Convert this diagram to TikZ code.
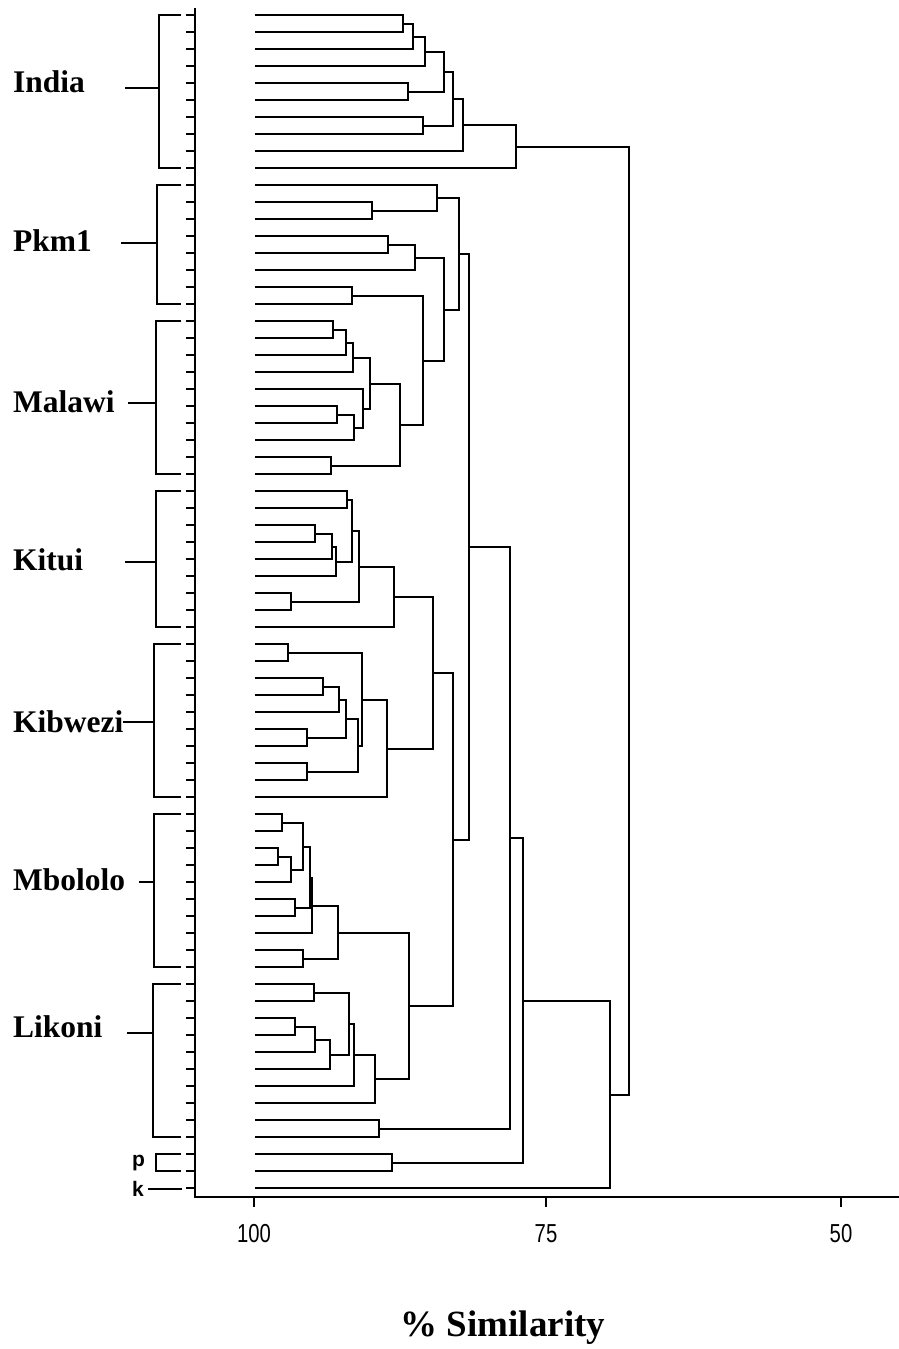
\documentclass[tikz,border=0pt]{standalone}
\usepackage{fontspec}
\setmainfont{Liberation Serif}
\newfontfamily\ticksans[FakeStretch=0.78]{Liberation Sans}
\newfontfamily\lettersans{Liberation Sans}

% leaf: name, row index (rows are 17 units apart, first at 15)
\newcommand\dgleaf[2]{%
  \pgfmathsetmacro\dgtmp{15+17*#2}%
  \expandafter\xdef\csname dgy@#1\endcsname{\dgtmp}%
  \coordinate (#1) at (255,\dgtmp);}
% join: name, x position, first child, second child (snapped to whole units)
\newcommand\dgjoin[4]{%
  \pgfmathsetmacro\dgtmp{round((\csname dgy@#3\endcsname+\csname dgy@#4\endcsname)/2)}%
  \expandafter\xdef\csname dgy@#1\endcsname{\dgtmp}%
  \coordinate (#1) at (#2,\dgtmp);
  \draw[tree] (#3) -| (#1) |- (#4);}

\begin{document}
\begin{tikzpicture}[x=1pt,y=-1pt,
  tree/.style={line width=2pt},
  frame/.style={line width=2pt},
  brk/.style={line width=2pt},
  grplabel/.style={anchor=base west, inner sep=0pt,
    font=\fontsize{31.5}{34}\selectfont\bfseries},
  smallletter/.style={anchor=base west, inner sep=0pt,
    font=\lettersans\fontsize{21}{23}\selectfont\bfseries},
  ticklab/.style={anchor=base, inner sep=0pt,
    font=\ticksans\fontsize{26}{28}\selectfont}]
\useasboundingbox (0,0) rectangle (899,1349);

% axes
\coordinate (ax-top) at (195,8);
\coordinate (ax-corner) at (195,1197);
\coordinate (ax-end) at (899,1197);
\draw[frame] (ax-top) -- (ax-corner) -- (ax-end);

% leaves and their ticks on the vertical axis
\foreach \i in {0,...,69} {
  \dgleaf{L\i}{\i}
  \draw[frame] (186,\dgtmp) -- (ax-top |- L\i);
}

% India
\dgjoin{a1}{403}{L0}{L1}
\dgjoin{a2}{413}{a1}{L2}
\dgjoin{a3}{425}{a2}{L3}
\dgjoin{a4}{408}{L4}{L5}
\dgjoin{a5}{444}{a3}{a4}
\dgjoin{a6}{423}{L6}{L7}
\dgjoin{a7}{453}{a5}{a6}
\dgjoin{a8}{463}{a7}{L8}
\dgjoin{a9}{516}{a8}{L9}

% Pkm1
\dgjoin{b1}{372}{L11}{L12}
\dgjoin{b2}{437}{L10}{b1}
\dgjoin{b3}{388}{L13}{L14}
\dgjoin{b4}{415}{b3}{L15}
\dgjoin{b5}{352}{L16}{L17}

% Malawi
\dgjoin{m1}{333}{L18}{L19}
\dgjoin{m2}{346}{m1}{L20}
\dgjoin{m3}{353}{m2}{L21}
\dgjoin{m4}{337}{L23}{L24}
\dgjoin{m5}{354}{m4}{L25}
\dgjoin{m6}{363}{L22}{m5}
\dgjoin{m7}{370}{m3}{m6}
\dgjoin{m8}{331}{L26}{L27}
\dgjoin{m9}{400}{m7}{m8}

\dgjoin{b6}{423}{b5}{m9}
\dgjoin{b7}{444}{b4}{b6}
\dgjoin{b8}{459}{b2}{b7}

% Kitui
\dgjoin{k1}{347}{L28}{L29}
\dgjoin{k2}{315}{L30}{L31}
\dgjoin{k3}{332}{k2}{L32}
\dgjoin{k4}{336}{k3}{L33}
\dgjoin{k5}{352}{k1}{k4}
\dgjoin{k6}{291}{L34}{L35}
\dgjoin{k7}{359}{k5}{k6}
\dgjoin{k8}{394}{k7}{L36}

% Kibwezi
\dgjoin{w1}{288}{L37}{L38}
\dgjoin{w2}{323}{L39}{L40}
\dgjoin{w3}{339}{w2}{L41}
\dgjoin{w4}{307}{L42}{L43}
\dgjoin{w5}{346}{w3}{w4}
\dgjoin{w6}{307}{L44}{L45}
\dgjoin{w7}{358}{w5}{w6}
\dgjoin{w8}{362}{w1}{w7}
\dgjoin{w9}{387}{w8}{L46}

\dgjoin{kw}{433}{k8}{w9}

% Mbololo
\dgjoin{o1}{282}{L47}{L48}
\dgjoin{o2}{278}{L49}{L50}
\dgjoin{o3}{291}{o2}{L51}
\dgjoin{o4}{303}{o1}{o3}
\dgjoin{o5}{295}{L52}{L53}
\dgjoin{o6}{310}{o4}{o5}
\dgjoin{o7}{312}{o6}{L54}
\dgjoin{o8}{303}{L55}{L56}
\dgjoin{o9}{338}{o7}{o8}

% Likoni
\dgjoin{l1}{314}{L57}{L58}
\dgjoin{l2}{295}{L59}{L60}
\dgjoin{l3}{315}{l2}{L61}
\dgjoin{l4}{330}{l3}{L62}
\dgjoin{l5}{349}{l1}{l4}
\dgjoin{l6}{354}{l5}{L63}
\dgjoin{l7}{375}{l6}{L64}
\dgjoin{l8}{409}{o9}{l7}
\dgjoin{l9}{379}{L65}{L66}

% upper levels
\dgjoin{r1}{453}{kw}{l8}
\dgjoin{r2}{469}{b8}{r1}
\dgjoin{r3}{510}{r2}{l9}
\dgjoin{pp}{392}{L67}{L68}
\dgjoin{r4}{523}{r3}{pp}
\dgjoin{r5}{610}{r4}{L69}
\dgjoin{r6}{629}{a9}{r5}

% group brackets with labels
\foreach \nm/\lab/\bx/\ya/\yb/\cy/\cs/\bl in {
  india/India/159/15/168/88/125/92,
  pkm/Pkm1/157/185/304/243/121/251,
  malawi/Malawi/156/321/474/403/128/412,
  kitui/Kitui/156/491/627/562/125/570,
  kibwezi/Kibwezi/154/644/797/722/123/732,
  mbololo/Mbololo/154/814/967/882/139/890,
  likoni/Likoni/153/984/1137/1033/127/1037} {
  \coordinate (\nm-t) at (\bx,\ya);
  \coordinate (\nm-b) at (\bx,\yb);
  \coordinate (\nm-c) at (\bx,\cy);
  \coordinate (\nm-s) at (\cs,\cy);
  \node[grplabel] (\nm-lab) at (13,\bl) {\lab};
  \draw[brk] (181,\ya) -- (\nm-t) -- (\nm-b) -- (181,\yb);
  \draw[brk] (\nm-s) -- (\nm-c);
}

% single strains p and k
\coordinate (p-t) at (156,1154);
\coordinate (p-b) at (156,1171);
\draw[brk] (181,1154) -- (p-t) -- (p-b) -- (181,1171);
\node[smallletter] (p-lab) at (132,1166) {p};
\coordinate (k-s) at (148,1189);
\coordinate (k-e) at (182,1189);
\draw[brk] (k-s) -- (k-e);
\node[smallletter] (k-lab) at (132,1196) {k};

% similarity scale
\foreach \nm/\xx in {t100/254, t75/546, t50/841} {
  \coordinate (\nm-a) at (\xx,1197);
  \coordinate (\nm-b) at (\xx,1207);
  \draw[frame] (\nm-a) -- (\nm-b);
}
\node[ticklab] (l100) at (254,1242) {100};
\node[ticklab] (l75) at (546,1242) {75};
\node[ticklab] (l50) at (841,1242) {50};

\node[anchor=base, inner sep=0pt, font=\fontsize{37}{40}\selectfont\bfseries]
  (xtitle) at (503,1336) {\% Similarity};
\end{tikzpicture}
\end{document}
